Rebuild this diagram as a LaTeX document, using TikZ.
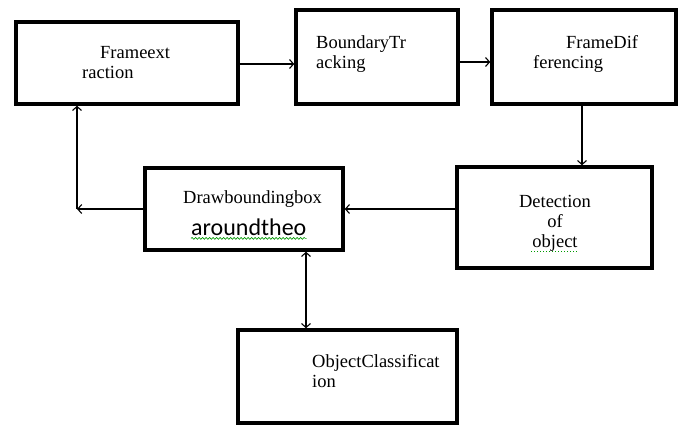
\documentclass[tikz,border=0pt]{standalone}
\usepackage{fontspec}
\setmainfont{Liberation Serif}
\newfontfamily\calfont{Carlito}
\usetikzlibrary{arrows.meta,decorations.pathmorphing}
\tikzset{
blockbox/.style={
	  draw, line width=3.5pt, rectangle, inner sep=0pt},
boxtext/.style={
	  inner sep=0pt, font=\fontsize{18.5}{20}\selectfont},
link/.style={
	  line width=1.1pt, -{Straight Barb[length=4pt,width=9pt]}},
squiggle/.style={
	  draw=green!60!black, line width=0.6pt,
	  decorate, decoration={snake, amplitude=1pt, segment length=3.5pt}}
}

\begin{document}
\begin{tikzpicture}[x=1pt, y=-1pt]
	\useasboundingbox (0,0) rectangle (682,428);
	\node[blockbox, minimum width=222pt, minimum height=82pt] (extract) at (127,63) {};
	\node[blockbox, minimum width=162pt, minimum height=94pt] (track) at (377,57) {};
	\node[blockbox, minimum width=184pt, minimum height=94pt] (differ) at (584,57) {};
	\node[blockbox, minimum width=195pt, minimum height=101pt] (detect) at (554.5,217.5) {};
	\node[blockbox, minimum width=198pt, minimum height=82pt] (bbox) at (244,209) {};
	\node[blockbox, minimum width=219pt, minimum height=93pt] (classify) at (347.5,376.5) {};

	\node[boxtext, anchor=base west, align=left] (extract-txt) at (82,78) {\hspace*{18pt}Frameext\\raction};
	\node[boxtext, anchor=base west, align=left] (track-txt) at (316,68) {BoundaryTr\\acking};
	\node[boxtext, anchor=base west, align=left] (differ-txt) at (533,68) {\hspace*{33pt}FrameDif\\ferencing};
	\node[boxtext, anchor=base, align=center] (detect-txt) at (555,247) {Detection\\of\\object};
	\node[boxtext, anchor=base west] (bbox-txt) at (183,203) {Drawboundingbox};
	\node[inner sep=0pt, anchor=base west, font=\calfont\fontsize{24}{26}\selectfont] (bbox-txt2) at (191,235) {aroundtheo};
	\node[boxtext, anchor=base west, align=left] (classify-txt) at (312,387) {ObjectClassificat\\ion};

	\draw[squiggle] ([yshift=-3pt]bbox-txt2.south west) -- ([yshift=-3pt]bbox-txt2.south east);
	\draw[green!60!black, line width=1pt, dotted] (531,251) -- (577,251);

	\coordinate (corner) at (77,209);
	\draw[link] ([yshift=-1pt]extract.east) -- ([yshift=-1pt]extract.east -| track.west);
	\draw[link] ([yshift=-5pt]track.east) -- ([yshift=-5pt]track.east -| differ.west);
	\draw[link] ([xshift=-2pt]differ.south) -- ([xshift=-2pt]differ.south |- detect.north);
	\draw[link] (detect.west |- bbox.east) -- (bbox.east);
	\draw[link] (bbox.west) -- (corner);
	\draw[link] (corner) -- (corner |- extract.south);
	\draw[link, {Straight Barb[length=4pt,width=9pt]}-{Straight Barb[length=4pt,width=9pt]}] ([xshift=62pt]bbox.south) -- ([xshift=62pt]bbox.south |- classify.north);
\end{tikzpicture}
\end{document}
